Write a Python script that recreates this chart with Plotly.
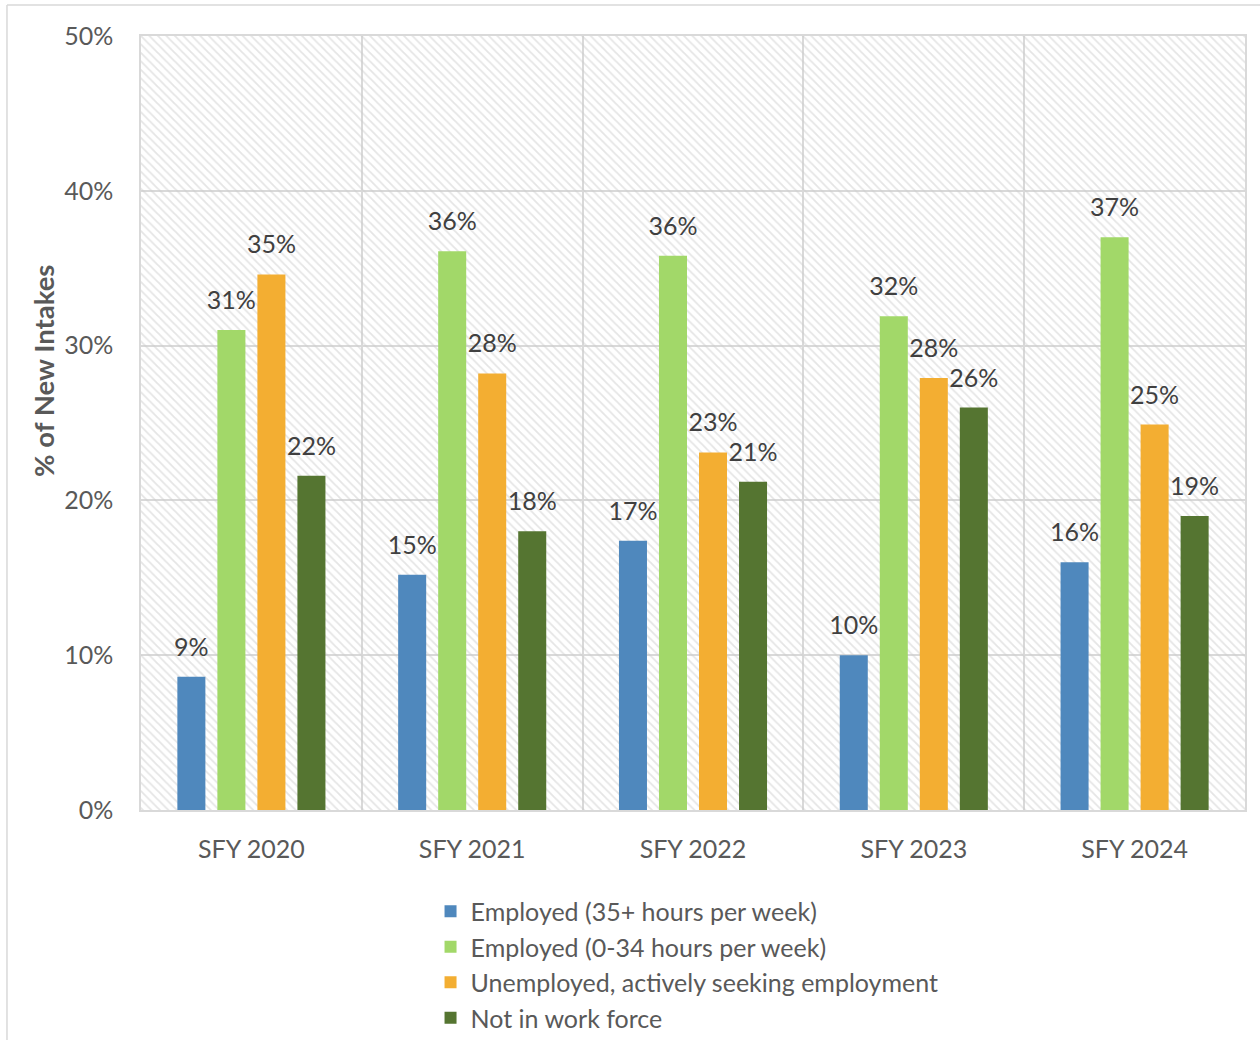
import plotly.graph_objects as go

# Share of new intakes by employment status, per state fiscal year
years = ["SFY 2020", "SFY 2021", "SFY 2022", "SFY 2023", "SFY 2024"]
employed_full = [8.6, 15.2, 17.4, 10.0, 16.0]
employed_part = [31.0, 36.1, 35.8, 31.9, 37.0]
unemployed_seeking = [34.6, 28.2, 23.1, 27.9, 24.9]
not_in_work_force = [21.6, 18.0, 21.2, 26.0, 19.0]

series_names = [
    "Employed (35+ hours per week)",
    "Employed (0-34 hours per week)",
    "Unemployed, actively seeking employment",
    "Not in work force",
]
series_values = [employed_full, employed_part, unemployed_seeking, not_in_work_force]
series_colors = ["#4F88BD", "#A2D869", "#F3AE32", "#557531"]

y_max = 50
y_ticks = [0, 10, 20, 30, 40, 50]
y_tick_text = [f"{v}%" for v in y_ticks]

FONT = "Lato"
AXIS_GRAY = "#595959"
LABEL_GRAY = "#404040"
GRID = "#d9d9d9"

fig = go.Figure()

# Hatched backdrop for the plot area (bar on a hidden numeric axis)
fig.add_trace(go.Bar(
    x=[0.5], y=[y_max], width=[1.0],
    xaxis="x", yaxis="y",
    marker=dict(
        color="rgba(0,0,0,0)",
        line=dict(width=0),
        pattern=dict(shape="\\", fgcolor="#cccccc", bgcolor="rgba(0,0,0,0)",
                     size=6, solidity=0.3),
    ),
    hoverinfo="skip", showlegend=False,
))

# Bars
for name, vals, col in zip(series_names, series_values, series_colors):
    fig.add_trace(go.Bar(
        name=name, x=years, y=vals,
        xaxis="x2", yaxis="y", offsetgroup=name,
        marker=dict(color=col, line=dict(width=0)),
        hoverinfo="skip",
    ))

# Value labels above each bar (grouped the same way as the bars)
for name, vals in zip(series_names, series_values):
    fig.add_trace(go.Scatter(
        x=years, y=vals, xaxis="x2", yaxis="y", offsetgroup=name,
        mode="markers+text",
        marker=dict(size=22, opacity=0),
        text=[f"{v:.0f}%" for v in vals], textposition="top center",
        textfont=dict(family=FONT, size=25, color=LABEL_GRAY),
        cliponaxis=False, showlegend=False, hoverinfo="skip",
    ))

fig.update_layout(
    width=1260, height=1040,
    margin=dict(l=141, r=15, t=36, b=230),
    paper_bgcolor="white", plot_bgcolor="white",
    barmode="group", bargap=0.275, bargroupgap=0.3,
    scattermode="group", scattergap=0.275,
    font=dict(family=FONT, color=AXIS_GRAY, size=25),
    xaxis=dict(range=[0, 1], visible=False, fixedrange=True),
    xaxis2=dict(
        overlaying="x", anchor="y", side="bottom",
        type="category", categoryorder="array", categoryarray=years,
        showgrid=True, gridcolor=GRID, gridwidth=1.5, tickson="boundaries",
        ticks="", showline=True, linecolor=GRID, linewidth=1.5, mirror=True,
        tickfont=dict(family=FONT, size=25, color=AXIS_GRAY),
        ticklabelstandoff=16,
    ),
    yaxis=dict(
        range=[0, y_max], tickvals=y_ticks, ticktext=y_tick_text,
        showgrid=True, gridcolor=GRID, gridwidth=1.5,
        zeroline=False, showline=True, linecolor=GRID, linewidth=1.5, mirror=True,
        tickfont=dict(family=FONT, size=25, color=AXIS_GRAY),
        ticklabelstandoff=21,
    ),
    annotations=[
        dict(text="<b>% of New Intakes</b>", textangle=-90,
             xref="paper", yref="paper", x=-0.0879, y=0.5672,
             xanchor="center", yanchor="middle", showarrow=False,
             font=dict(family=FONT, size=27.5, color=AXIS_GRAY)),
    ],
    legend=dict(
        orientation="v", xref="paper", x=0.4946, xanchor="center",
        yref="container", y=0.1456, yanchor="top",
        font=dict(family=FONT, size=25, color=AXIS_GRAY),
        itemclick=False, itemdoubleclick=False, tracegroupgap=0,
    ),
    shapes=[
        # outer frame edges of the chart box
        dict(type="line", xref="paper", yref="paper",
             x0=-0.1214, x1=1.02, y0=1.0401, y1=1.0401,
             line=dict(color=GRID, width=1.5)),
        dict(type="line", xref="paper", yref="paper",
             x0=-0.1214, x1=-0.1214, y0=1.0401, y1=-0.3,
             line=dict(color=GRID, width=1.5)),
    ],
)

fig.write_html("out.html")
